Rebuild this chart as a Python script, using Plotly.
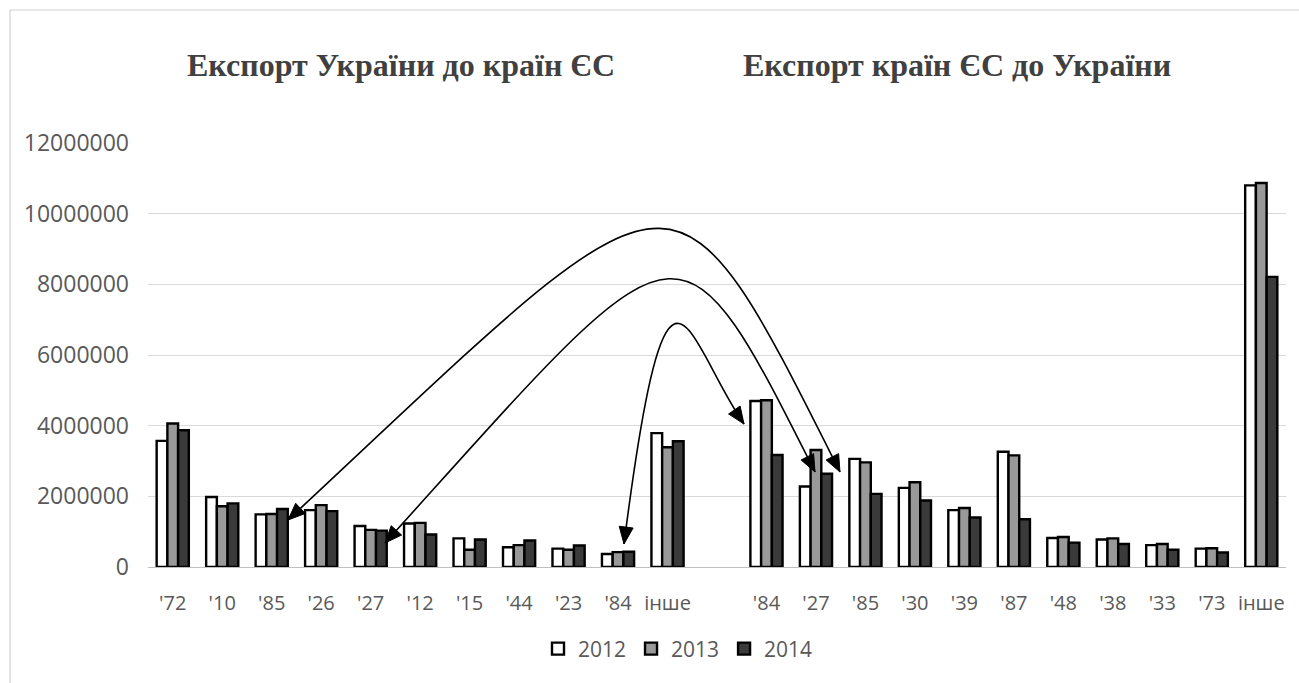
import plotly.graph_objects as go

# ---- data ----
ua_to_eu = ["'72", "'10", "'85", "'26", "'27", "'12", "'15", "'44", "'23", "'84", "інше"]
eu_to_ua = ["'84", "'27", "'85", "'30", "'39", "'87", "'48", "'38", "'33", "'73", "інше"]

ua_2012 = [3570000, 1980000, 1490000, 1610000, 1160000, 1230000, 810000, 560000, 520000, 370000, 3790000]
ua_2013 = [4060000, 1720000, 1500000, 1750000, 1050000, 1250000, 490000, 620000, 490000, 420000, 3390000]
ua_2014 = [3870000, 1800000, 1640000, 1580000, 1030000, 920000, 780000, 750000, 610000, 430000, 3560000]

eu_2012 = [4700000, 2280000, 3060000, 2240000, 1610000, 3260000, 820000, 780000, 620000, 520000, 10800000]
eu_2013 = [4720000, 3310000, 2960000, 2400000, 1670000, 3160000, 850000, 810000, 650000, 530000, 10870000]
eu_2014 = [3170000, 2640000, 2070000, 1880000, 1400000, 1350000, 690000, 650000, 490000, 410000, 8210000]

years = ["2012", "2013", "2014"]
y_ticks = [0, 2000000, 4000000, 6000000, 8000000, 10000000, 12000000]
title_left = "Експорт України до країн ЄС"
title_right = "Експорт країн ЄС до України"

# combined category axis with one empty slot between the two groups
labels = ua_to_eu + [""] + eu_to_ua
xs = list(range(len(labels)))
series = {
    "2012": ua_2012 + [None] + eu_2012,
    "2013": ua_2013 + [None] + eu_2013,
    "2014": ua_2014 + [None] + eu_2014,
}
colors = {"2012": "#ffffff", "2013": "#999999", "2014": "#3a3a3a"}

fig = go.Figure()
for yr in years:
    fig.add_trace(go.Bar(
        x=xs, y=series[yr], name=yr,
        marker=dict(color=colors[yr], line=dict(color="#000000", width=2.4)),
    ))

# ---- plot-area geometry (pixels) ----
W_FIG, H_FIG = 1299, 683
L, R, T, B = 148, 1286, 143, 567
PW, PH = R - L, B - T

def P(x, y):
    return f"{(x - L) / PW:.5f},{(B - y) / PH:.5f}"

shapes = []
# curved double-headed arrows (decoration), cubic Bezier in pixel space
curves = [
    ((288, 520), (685, 150), (668, 130), (840, 472)),
    ((385, 543), (684, 212), (676, 196), (815, 472)),
    ((624, 544), (668, 200), (686, 340), (744, 424)),
]

def head(tip, ctrl, ln=17, hw=7):
    dx, dy = tip[0] - ctrl[0], tip[1] - ctrl[1]
    n = (dx * dx + dy * dy) ** 0.5
    dx, dy = dx / n, dy / n
    bx, by = tip[0] - dx * ln, tip[1] - dy * ln
    nx, ny = -dy, dx
    return (f"M {P(*tip)} L {P(bx + nx * hw, by + ny * hw)} "
            f"L {P(bx - nx * hw, by - ny * hw)} Z")

for p0, p1, p2, p3 in curves:
    shapes.append(dict(type="path", xref="paper", yref="paper",
                       path=f"M {P(*p0)} C {P(*p1)} {P(*p2)} {P(*p3)}",
                       line=dict(color="#000000", width=1.6)))
    for tip, ctrl in ((p0, p1), (p3, p2)):
        shapes.append(dict(type="path", xref="paper", yref="paper",
                           path=head(tip, ctrl), fillcolor="#000000",
                           line=dict(color="#000000", width=1)))

# chart-area border (left and top visible)
shapes.append(dict(type="line", xref="paper", yref="paper",
                   x0=(10 - L) / PW, x1=(10 - L) / PW, y0=(B - 10) / PH, y1=(B - 700) / PH,
                   line=dict(color="#d0d0d0", width=1.2)))
shapes.append(dict(type="line", xref="paper", yref="paper",
                   x0=(10 - L) / PW, x1=(1320 - L) / PW, y0=(B - 10) / PH, y1=(B - 10) / PH,
                   line=dict(color="#d0d0d0", width=1.2)))

annotations = []
for txt, cx in ((title_left, 401), (title_right, 957)):
    annotations.append(dict(text=f"<b>{txt}</b>", xref="paper", yref="paper",
                            x=(cx - L) / PW, y=(B - 65) / PH, xanchor="center", yanchor="middle",
                            showarrow=False,
                            font=dict(family="Liberation Serif", size=32, color="#404040")))

fig.update_layout(
    width=W_FIG, height=H_FIG,
    margin=dict(l=L, r=W_FIG - R, t=T, b=H_FIG - B, pad=0),
    paper_bgcolor="#ffffff", plot_bgcolor="#ffffff",
    barmode="group", bargap=0.35, bargroupgap=0,
    font=dict(family="Open Sans", size=22, color="#595959"),
    showlegend=True,
    legend=dict(orientation="h", x=(678 - L) / PW, xanchor="center",
                y=(B - 649) / PH, yanchor="middle",
                font=dict(family="Open Sans", size=21, color="#595959"),
                itemwidth=30, traceorder="normal"),
    shapes=shapes,
    annotations=annotations,
)
fig.update_xaxes(range=[-0.5, len(labels) - 0.5], tickmode="array", tickvals=xs, ticktext=labels,
                 showgrid=False, zeroline=False, showline=False, ticks="",
                 ticklabelstandoff=22, tickfont=dict(size=20, color="#595959"))
fig.update_yaxes(range=[0, 12000000], tickmode="array", tickvals=y_ticks, tickformat="d",
                 showgrid=True, gridcolor="#d9d9d9", gridwidth=1.3,
                 zeroline=True, zerolinecolor="#bfbfbf", zerolinewidth=1.3,
                 showline=False, ticks="", ticklabelstandoff=18,
                 tickfont=dict(size=23, color="#595959"))

fig.write_html("out.html", config={"displayModeBar": False},
               post_script="document.body.style.margin='0';document.body.style.overflow='hidden';")
